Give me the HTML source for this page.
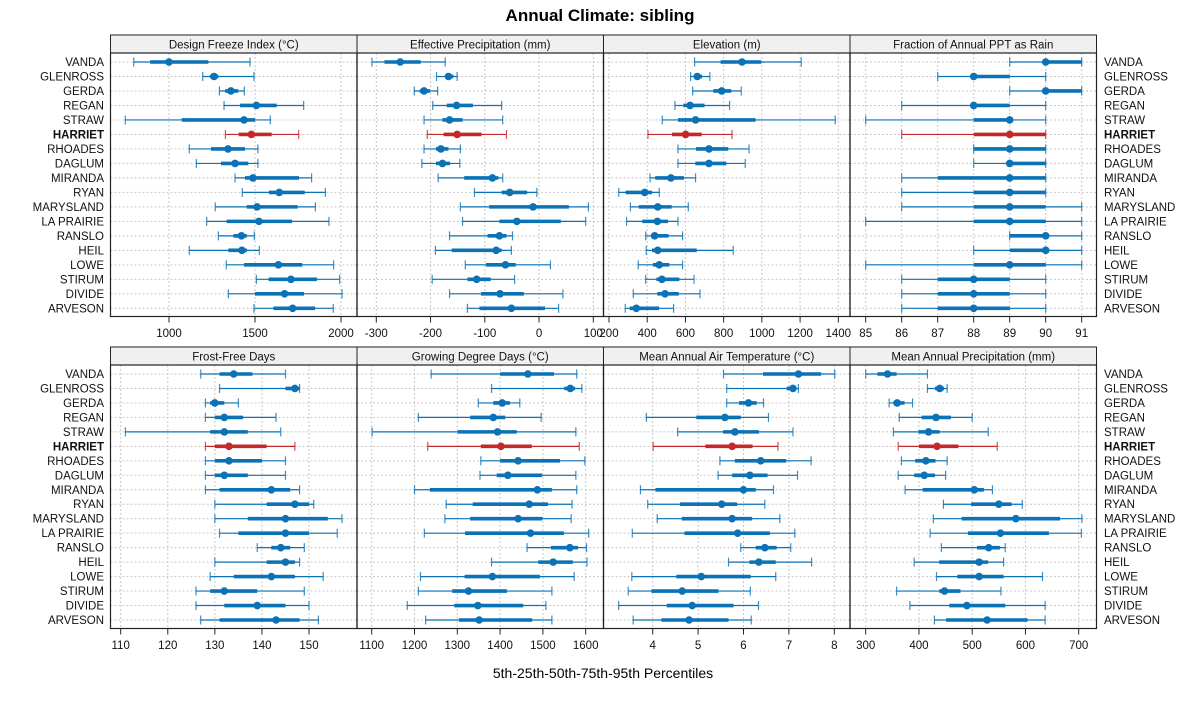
<!DOCTYPE html>
<html><head><meta charset="utf-8"><style>
body{margin:0;background:#fff;width:1200px;height:700px;overflow:hidden}
svg text{font-family:"Liberation Sans",sans-serif}
</style></head><body>
<svg id="chart" width="1200" height="700" xmlns="http://www.w3.org/2000/svg">
<text x="600" y="21" text-anchor="middle" font-size="17" font-weight="bold">Annual Climate: sibling</text>
<text x="603" y="678" text-anchor="middle" font-size="14">5th-25th-50th-75th-95th Percentiles</text>
</svg>
<script>
const sites = ["VANDA","GLENROSS","GERDA","REGAN","STRAW","HARRIET","RHOADES","DAGLUM","MIRANDA","RYAN","MARYSLAND","LA PRAIRIE","RANSLO","HEIL","LOWE","STIRUM","DIVIDE","ARVESON"];
const highlight = "HARRIET";
const panelTitles = ["Design Freeze Index (\u00B0C)","Effective Precipitation (mm)","Elevation (m)","Fraction of Annual PPT as Rain","Frost-Free Days","Growing Degree Days (\u00B0C)","Mean Annual Air Temperature (\u00B0C)","Mean Annual Precipitation (mm)"];
const ticks0 = [1000,1500,2000];
const ticks1 = [-300,-200,-100,0,100];
const ticks2 = [200,400,600,800,1000,1200,1400];
const ticks3 = [85,86,87,88,89,90,91];
const ticks4 = [110,120,130,140,150];
const ticks5 = [1100,1200,1300,1400,1500,1600];
const ticks6 = [4,5,6,7,8];
const ticks7 = [300,400,500,600,700];
// [5th,25th,50th,75th,95th] per site
const dfi = [[795,890,1000,1229,1471],[1196,1238,1262,1287,1494],[1293,1326,1360,1403,1438],[1320,1413,1508,1626,1783],[746,1074,1436,1500,1589],[1328,1405,1479,1597,1754],[1118,1244,1343,1442,1517],[1159,1302,1384,1461,1517],[1384,1442,1488,1756,1829],[1426,1581,1641,1789,1909],[1269,1452,1512,1748,1851],[1219,1335,1523,1715,1930],[1287,1374,1421,1452,1496],[1118,1345,1424,1453,1525],[1333,1436,1636,1775,1957],[1508,1579,1709,1860,1992],[1345,1500,1672,1785,2006],[1494,1607,1719,1849,1955]];
const effppt = [[-308,-285,-256,-218,-173],[-189,-173,-167,-158,-151],[-230,-220,-212,-201,-187],[-196,-170,-152,-122,-69],[-212,-178,-165,-141,-67],[-206,-176,-151,-106,-60],[-212,-190,-181,-167,-145],[-216,-190,-178,-164,-146],[-186,-138,-86,-75,-67],[-119,-69,-54,-22,-4],[-145,-92,-11,55,91],[-141,-73,-41,40,86],[-165,-95,-73,-60,-49],[-191,-161,-79,-69,-51],[-136,-98,-62,-43,21],[-197,-132,-115,-89,-45],[-165,-107,-72,-28,44],[-132,-110,-51,11,36]];
const elev = [[648,784,896,997,1206],[627,648,662,687,728],[638,746,790,840,892],[545,589,624,700,831],[479,561,653,967,1384],[404,530,601,685,844],[561,655,723,824,933],[561,652,723,814,913],[415,442,524,592,653],[251,287,387,425,463],[312,356,455,528,615],[292,374,453,509,561],[392,421,439,512,585],[395,425,455,659,850],[353,430,463,516,585],[392,448,477,568,645],[327,453,493,565,676],[285,308,343,462,538]];
const rainfrac = [[89,90,90,91,91],[87,88,88,89,90],[89,90,90,91,91],[86,88,88,89,90],[85,88,89,89,90],[86,88,89,90,90],[88,88,89,90,90],[88,89,89,90,90],[86,87,89,90,90],[86,88,89,90,90],[86,88,89,90,91],[85,88,89,90,91],[89,89,90,90,91],[88,89,90,90,91],[85,88,89,90,91],[86,87,88,89,90],[86,87,88,89,90],[86,87,88,89,90]];
const ffd = [[127,131,134,138,145],[131,145,147,148,148],[128,129,130,132,135],[128,130,132,136,143],[111,129,132,137,144],[128,130,133,141,147],[128,130,133,140,145],[128,130,132,137,145],[128,131,142,146,148],[130,141,147,150,151],[130,137,145,154,157],[131,135,145,150,156],[139,142,144,146,149],[130,141,145,147,148],[129,134,142,147,153],[126,129,132,139,149],[126,132,139,145,150],[127,131,143,148,152]];
const gdd = [[1239,1400,1465,1526,1579],[1380,1550,1564,1575,1591],[1349,1384,1405,1423,1446],[1209,1330,1384,1412,1496],[1101,1301,1394,1439,1577],[1231,1355,1402,1474,1585],[1355,1400,1442,1540,1598],[1353,1392,1418,1498,1577],[1200,1236,1487,1521,1579],[1274,1336,1468,1512,1568],[1271,1330,1442,1499,1566],[1223,1318,1471,1549,1607],[1463,1519,1563,1582,1602],[1380,1489,1524,1570,1603],[1214,1317,1382,1493,1573],[1209,1288,1326,1416,1521],[1183,1293,1348,1454,1507],[1226,1304,1351,1475,1521]];
const maat = [[5.56,6.43,7.21,7.71,8.01],[5.63,6.95,7.09,7.15,7.21],[5.63,5.90,6.11,6.29,6.44],[3.86,4.96,5.59,5.94,6.55],[4.55,5.55,5.81,6.34,7.09],[4.01,5.16,5.75,6.20,6.76],[5.48,5.81,6.38,6.94,7.49],[5.44,5.75,6.14,6.53,7.19],[3.73,4.06,6.00,6.27,6.66],[3.89,4.60,5.52,5.86,6.47],[4.10,4.64,5.75,6.19,6.80],[3.55,4.70,5.87,6.58,7.13],[5.94,6.27,6.47,6.73,7.04],[5.67,6.13,6.34,6.71,7.50],[3.54,4.52,5.07,6.16,6.71],[3.46,3.97,4.65,5.45,6.15],[3.25,4.31,4.87,5.78,6.33],[3.57,4.19,4.80,5.67,6.17]];
const map = [[300,322,341,358,416],[416,430,439,447,453],[344,352,359,373,388],[363,405,432,460,500],[352,399,418,439,530],[361,400,434,474,547],[367,393,413,431,453],[361,391,410,430,450],[374,407,504,522,538],[446,498,550,574,594],[427,480,582,665,706],[421,492,553,644,705],[442,509,531,552,562],[391,438,513,530,559],[433,472,513,559,632],[358,438,448,478,554],[383,457,490,562,637],[429,451,528,604,637]];

const NS = "http://www.w3.org/2000/svg";
const svg = document.getElementById("chart");
function mk(tag, attrs, parent){const e=document.createElementNS(NS,tag);for(const k in attrs)e.setAttribute(k,attrs[k]);(parent||svg).appendChild(e);return e;}

// axis definitions: domain values mapped to panel pixel ranges (two reference values -> pixel)
const panelData = [dfi,effppt,elev,rainfrac,ffd,gdd,maat,map];
const panelTicks = [ticks0,ticks1,ticks2,ticks3,ticks4,ticks5,ticks6,ticks7];
const scaleRefs = [[1000,169,2000,341],[-300,376.3,100,593.3],[200,609,1400,838.3],[85,865.7,91,1081.7],[110,120.7,150,309],[1100,371.7,1600,585.7],[3,607.3,8,834.3],[300,865.7,700,1078.7]];
const colX = [110.5,357,603.5,850,1096.5];
const rowY = [{strip:35,top:53,bottom:316.5,first:62,last:308.3,tickLab:337},{strip:347,top:365,bottom:628.5,first:374,last:620,tickLab:649}];
const BLUE="#0a72b5", RED="#c4282b";

for(let p=0;p<8;p++){
  const r=Math.floor(p/4), c=p%4, R=rowY[r];
  const x0=colX[c], x1=colX[c+1];
  const ref=scaleRefs[p];
  const sx=v=>ref[1]+(v-ref[0])*(ref[3]-ref[1])/(ref[2]-ref[0]);
  const sy=i=>R.first+i*(R.last-R.first)/(sites.length-1);
  const g=mk("g",{});
  
  
  const clipId="clip"+p;
  const cp=mk("clipPath",{id:clipId},g); mk("rect",{x:x0,y:R.top,width:x1-x0,height:R.bottom-R.top},cp);
  // strip
  const st=mk("rect",{x:x0,y:R.strip,width:x1-x0,height:R.top-R.strip,fill:"#f0f0f0",stroke:"#222","stroke-width":1},g);
  
  
  const stt=mk("text",{x:(x0+x1)/2,y:R.strip+13.5,"text-anchor":"middle","font-size":"11.5",fill:"#111"},g); stt.textContent=panelTitles[p];
  
  
  const pg=mk("g",{"clip-path":"url(#"+clipId+")"},g);
  // grid
  panelTicks[p].forEach(t=>{const l=mk("line",{x1:sx(t),x2:sx(t),y1:R.top,y2:R.bottom,stroke:"#c8c8c8","stroke-dasharray":"2,2","stroke-width":1},pg);
    
    });
  sites.forEach((s,i)=>{const l=mk("line",{x1:x0,x2:x1,y1:sy(i),y2:sy(i),stroke:"#c8c8c8","stroke-dasharray":"2,2","stroke-width":1},pg);
    
    });
  // marks
  panelData[p].forEach((d,i)=>{
    const col = sites[i]===highlight?RED:BLUE, y=sy(i);
    const mg=mk("g",{},pg);
    
    
    mk("line",{x1:sx(d[0]),x2:sx(d[4]),y1:y,y2:y,stroke:col,"stroke-width":1.2},mg);
    mk("line",{x1:sx(d[0]),x2:sx(d[0]),y1:y-4.5,y2:y+4.5,stroke:col,"stroke-width":1.2,opacity:0.8},mg);
    mk("line",{x1:sx(d[4]),x2:sx(d[4]),y1:y-4.5,y2:y+4.5,stroke:col,"stroke-width":1.2,opacity:0.8},mg);
    mk("line",{x1:sx(d[1]),x2:sx(d[3]),y1:y,y2:y,stroke:col,"stroke-width":3.6},mg);
    mk("circle",{cx:sx(d[2]),cy:y,r:3.8,fill:col},mg);
  });
  // border
  mk("rect",{x:x0,y:R.top,width:x1-x0,height:R.bottom-R.top,fill:"none",stroke:"#222","stroke-width":1.2},g);
  // ticks
  panelTicks[p].forEach(t=>{const tx=sx(t);
    mk("line",{x1:tx,x2:tx,y1:R.bottom,y2:R.bottom+6,stroke:"#222","stroke-width":1},g);
    const tl=mk("text",{x:tx,y:R.tickLab,"text-anchor":"middle","font-size":"11.5",fill:"#111"},g); tl.textContent=String(t);
    
    
  });
}
// site labels
rowY.forEach(R=>{
  sites.forEach((s,i)=>{const y=R.first+i*(R.last-R.first)/(sites.length-1)+4;
    const b = s===highlight?{"font-weight":"bold"}:{};
    const a=mk("text",Object.assign({x:104,y:y,"text-anchor":"end","font-size":"11.5",fill:"#111"},b)); a.textContent=s;
    
    
    const z=mk("text",Object.assign({x:1104,y:y,"text-anchor":"start","font-size":"11.5",fill:"#111"},b)); z.textContent=s;
    
    
  });
});
</script>
</body></html>
